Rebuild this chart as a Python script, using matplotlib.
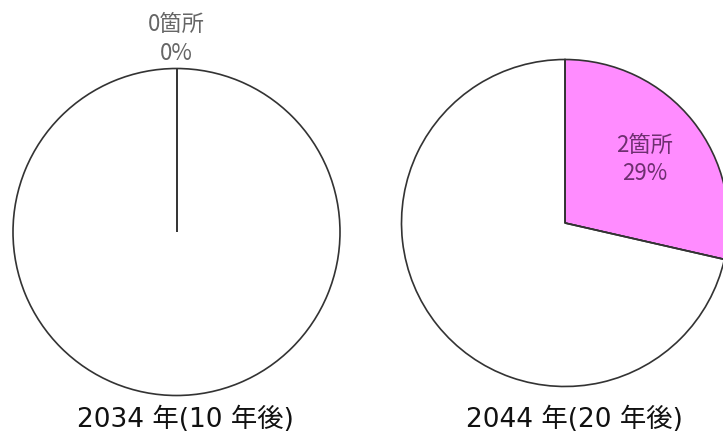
import matplotlib
matplotlib.use("Agg")
import matplotlib.pyplot as plt
import numpy as np

plt.rcParams['font.family'] = ['DejaVu Sans', 'Noto Sans CJK JP']

titles = ["2034 年(10 年後)", "2044 年(20 年後)"]
counts = [0, 2]      # 箇所
totals = [7, 7]
pcts = [0, 29]

# layout in pixel coords (y up)
centers = [(176.5, 208), (565, 217)]
radius = 163.5
label_dist = [1.18, 0.62]
label_colors = ["#666666", "#6e2f70"]
fill = "#ff8cff"
edge = "#333333"

fig = plt.figure(figsize=(7.23, 4.4), dpi=100)
ax = fig.add_axes([0, 0, 1, 1])

for i in range(2):
    vals = [counts[i], totals[i] - counts[i]]
    wedges, texts = ax.pie(
        vals, center=centers[i], radius=radius, startangle=90,
        counterclock=False, colors=[fill, "white"],
        labels=[f"{counts[i]}箇所\n{pcts[i]}%", ""],
        labeldistance=label_dist[i],
        wedgeprops=dict(edgecolor=edge, linewidth=1.2),
        textprops=dict(fontsize=16, color=label_colors[i],
                       family=['Noto Sans CJK JP', 'DejaVu Sans']))
    # boundary lines (so a zero-sized wedge still shows its radius)
    for w in wedges:
        th = np.deg2rad(w.theta1)
        cx, cy = centers[i]
        ax.plot([cx, cx + radius * np.cos(th)], [cy, cy + radius * np.sin(th)],
                color=edge, lw=1.2, solid_capstyle="butt")
    for t in texts:
        t.set_ha("center")
        t.set_va("center")
        t.set_multialignment("center")
        t.set_linespacing(1.3)
    ax.text(centers[i][0] + 9, 20, titles[i], ha="center", va="center",
            fontsize=19, color="#111111")

ax.set_xlim(0, 723)
ax.set_ylim(0, 440)
ax.set_aspect("equal")
ax.axis("off")

fig.savefig("out.png", dpi=100)
